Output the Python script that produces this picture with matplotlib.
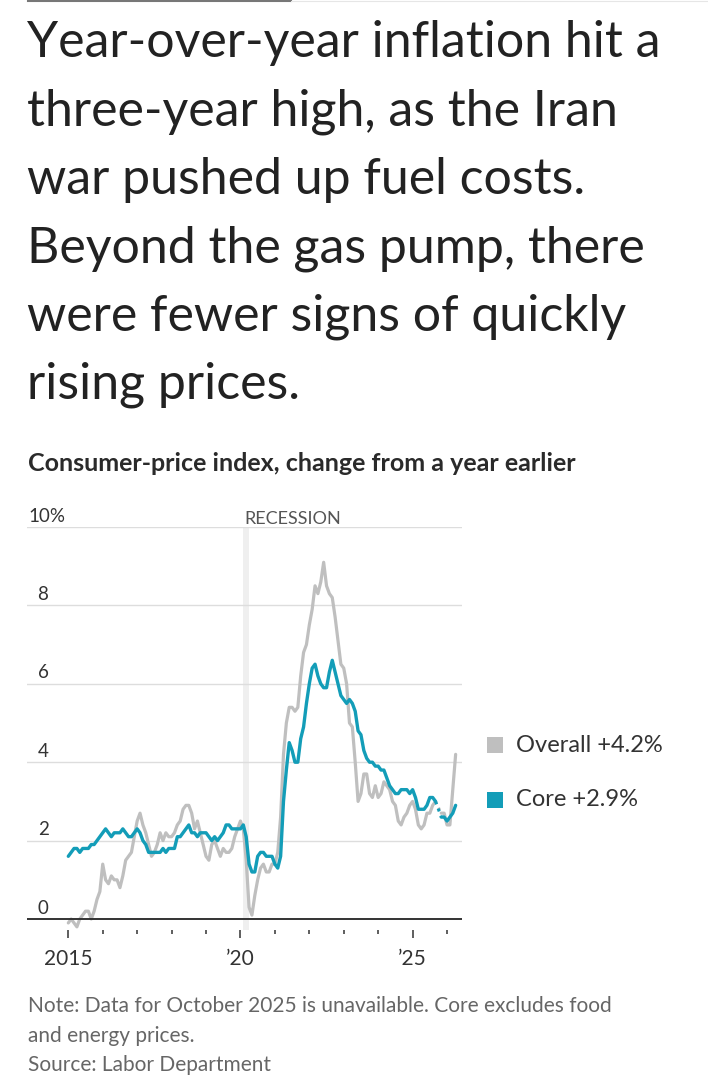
import matplotlib
matplotlib.use("Agg")
import matplotlib.pyplot as plt
import matplotlib.transforms as mtrans
import numpy as np
from matplotlib.patches import Rectangle
from matplotlib.lines import Line2D

plt.rcParams['font.family'] = ['Lato', 'DejaVu Sans']

# ---------------- data ----------------
start_year = 2015
overall = [
    -0.1, 0.0, -0.1, -0.2, 0.0, 0.1, 0.2, 0.2, 0.0, 0.2, 0.5, 0.7,      # 2015
    1.4, 1.0, 0.9, 1.1, 1.0, 1.0, 0.8, 1.1, 1.5, 1.6, 1.7, 2.1,         # 2016
    2.5, 2.7, 2.4, 2.2, 1.9, 1.6, 1.7, 1.9, 2.2, 2.0, 2.2, 2.1,         # 2017
    2.1, 2.2, 2.4, 2.5, 2.8, 2.9, 2.9, 2.7, 2.3, 2.5, 2.2, 1.9,         # 2018
    1.6, 1.5, 1.9, 2.0, 1.8, 1.6, 1.8, 1.7, 1.7, 1.8, 2.1, 2.3,         # 2019
    2.5, 2.3, 1.5, 0.3, 0.1, 0.6, 1.0, 1.3, 1.4, 1.2, 1.2, 1.4,         # 2020
    1.4, 1.7, 2.6, 4.2, 5.0, 5.4, 5.4, 5.3, 5.4, 6.2, 6.8, 7.0,         # 2021
    7.5, 7.9, 8.5, 8.3, 8.6, 9.1, 8.5, 8.3, 8.2, 7.7, 7.1, 6.5,         # 2022
    6.4, 6.0, 5.0, 4.9, 4.0, 3.0, 3.2, 3.7, 3.7, 3.2, 3.1, 3.4,         # 2023
    3.1, 3.2, 3.5, 3.4, 3.3, 3.0, 2.9, 2.5, 2.4, 2.6, 2.7, 2.9,         # 2024
    3.0, 2.8, 2.4, 2.3, 2.4, 2.7, 2.7, 2.9, 3.0, None, 2.7, 2.7,        # 2025
    2.4, 2.4, 3.3, 4.2,                                                 # 2026
]
core = [
    1.6, 1.7, 1.8, 1.8, 1.7, 1.8, 1.8, 1.8, 1.9, 1.9, 2.0, 2.1,         # 2015
    2.2, 2.3, 2.2, 2.1, 2.2, 2.2, 2.2, 2.3, 2.2, 2.1, 2.1, 2.2,         # 2016
    2.3, 2.2, 2.0, 1.9, 1.7, 1.7, 1.7, 1.7, 1.7, 1.8, 1.7, 1.8,         # 2017
    1.8, 1.8, 2.1, 2.1, 2.2, 2.3, 2.4, 2.2, 2.2, 2.1, 2.2, 2.2,         # 2018
    2.2, 2.1, 2.0, 2.1, 2.0, 2.1, 2.2, 2.4, 2.4, 2.3, 2.3, 2.3,         # 2019
    2.3, 2.4, 2.1, 1.4, 1.2, 1.2, 1.6, 1.7, 1.7, 1.6, 1.6, 1.6,         # 2020
    1.4, 1.3, 1.6, 3.0, 3.8, 4.5, 4.3, 4.0, 4.0, 4.6, 4.9, 5.5,         # 2021
    6.0, 6.4, 6.5, 6.2, 6.0, 5.9, 5.9, 6.3, 6.6, 6.3, 6.0, 5.7,         # 2022
    5.6, 5.5, 5.6, 5.5, 5.3, 4.8, 4.7, 4.3, 4.1, 4.0, 4.0, 3.9,         # 2023
    3.9, 3.8, 3.8, 3.6, 3.4, 3.3, 3.2, 3.2, 3.3, 3.3, 3.3, 3.2,         # 2024
    3.3, 3.1, 2.8, 2.8, 2.8, 2.9, 3.1, 3.1, 3.0, None, 2.6, 2.6,        # 2025
    2.5, 2.6, 2.7, 2.9,                                                 # 2026
]
recession = (2020 + 1/12, 2020 + 3/12)
major_ticks = [2015, 2020, 2025]
major_labels = ['2015', '\u201920', '\u201925']
minor_ticks = [2016, 2017, 2018, 2019, 2021, 2022, 2023, 2024, 2026]
y_grid = [2, 4, 6, 8, 10]
y_labels = ['2', '4', '6', '8', '10%']
legend_labels = ['Overall +4.2%', 'Core +2.9%']

title_lines = [
    "Year-over-year inflation hit a",
    "three-year high, as the Iran",
    "war pushed up fuel costs.",
    "Beyond the gas pump, there",
    "were fewer signs of quickly",
    "rising prices.",
]
subtitle = "Consumer-price index, change from a year earlier"
notes = [
    "Note: Data for October 2025 is unavailable. Core excludes food",
    "and energy prices.",
    "Source: Labor Department",
]

GRAY = '#bfbfbf'
TEAL = '#139db8'
DARK = '#222222'

W, H = 708, 1080
fig = plt.figure(figsize=(W / 100, H / 100), dpi=100)
fig.patch.set_facecolor('white')


def fx(px):
    return px / W


def fy(py):
    return 1 - py / H


# top rules
fig.add_artist(Line2D([fx(28), fx(291)], [fy(1), fy(1)], color='#777777', lw=1.5))
fig.add_artist(Line2D([fx(291), fx(708)], [fy(1), fy(1)], color='#e6e6e6', lw=0.8))

# title
for i, line in enumerate(title_lines):
    fig.text(fx(27), fy(57 + i * 68.4), line, fontsize=36, color=DARK,
             ha='left', va='baseline')

fig.text(fx(28), fy(471), subtitle, fontsize=18, fontweight='bold',
         color='#2a2a2a', ha='left', va='baseline')

# ---------------- chart ----------------
ax_left, ax_right = 26.7, 461.7
ax_top, ax_bot = 527, 930
ylo, yhi = -0.28, 10
x_per_year = 34.43
x2015 = 68.3
xlo = start_year - (x2015 - ax_left) / x_per_year
xhi = start_year + (ax_right - x2015) / x_per_year

ax = fig.add_axes([fx(ax_left), fy(ax_bot), (ax_right - ax_left) / W,
                   (ax_bot - ax_top) / H])
ax.set_xlim(xlo, xhi)
ax.set_ylim(ylo, yhi)
ax.set_facecolor('none')
for s in ax.spines.values():
    s.set_visible(False)

n = len(overall)
x = start_year + np.arange(n) / 12
ov = np.array([np.nan if v is None else v for v in overall], dtype=float)
co = np.array([np.nan if v is None else v for v in core], dtype=float)

ax.axvspan(recession[0], recession[1], color='#efefef', zorder=0, lw=0)

for g in y_grid:
    ax.axhline(g, color='#dddddd', lw=1.0, zorder=1)
ax.axhline(0, color='#333333', lw=1.4, zorder=5)

ax.plot(x, ov, color=GRAY, lw=2.3, zorder=3, solid_joinstyle='round',
        solid_capstyle='round', clip_on=False)
ax.plot(x, co, color=TEAL, lw=2.4, zorder=4, solid_joinstyle='round',
        solid_capstyle='round', clip_on=False)

# dotted connectors across the missing month
gap = int(np.where(np.isnan(ov))[0][0])
ax.plot(x[[gap - 1, gap + 1]], ov[[gap - 1, gap + 1]], color=GRAY, lw=2.0,
        ls=(0, (1, 1.5)), zorder=3)
ax.plot(x[[gap - 1, gap + 1]], co[[gap - 1, gap + 1]], color=TEAL, lw=2.2,
        ls=(0, (1, 1.5)), zorder=4)

# y labels
blend = mtrans.blended_transform_factory(ax.transAxes, ax.transData)
for g, lab in zip([0] + y_grid, ['0'] + y_labels):
    if lab.endswith('%'):
        ax.text((28 - ax_left) / (ax_right - ax_left), g + 0.14, lab,
                transform=blend, ha='left', va='baseline', fontsize=13.5,
                color='#333333')
    else:
        ax.text((48.5 - ax_left) / (ax_right - ax_left), g + 0.14, lab,
                transform=blend, ha='right', va='baseline', fontsize=13.5,
                color='#333333')

ax.set_yticks([])
ax.set_xticks(major_ticks)
ax.set_xticklabels(major_labels)
ax.set_xticks(minor_ticks, minor=True)
ax.tick_params(axis='x', which='major', length=5.8, width=1.1, color='#333333',
               labelsize=15, labelcolor='#333333', pad=8)
ax.tick_params(axis='x', which='minor', length=3.0, width=1.1, color='#333333')

# recession label
ax.text(recession[0] + 0.02, 1.0, 'RECESSION',
        transform=mtrans.blended_transform_factory(ax.transData, ax.transAxes),
        ha='left', va='bottom', fontsize=13, color='#555555')

# legend
for i, (lab, col) in enumerate(zip(legend_labels, [GRAY, TEAL])):
    cy = 745 + i * 55
    fig.add_artist(Rectangle((fx(487), fy(cy + 8)), 16 / W, 16 / H,
                             transform=fig.transFigure, color=col, lw=0))
    fig.text(fx(516), fy(cy), lab, fontsize=17, color='#333333',
             ha='left', va='center')

# notes
for i, line in enumerate(notes):
    fig.text(fx(28), fy(1012 + i * 29.5), line, fontsize=15, color='#666666',
             ha='left', va='baseline')

fig.savefig('out.png', dpi=100, facecolor='white')
